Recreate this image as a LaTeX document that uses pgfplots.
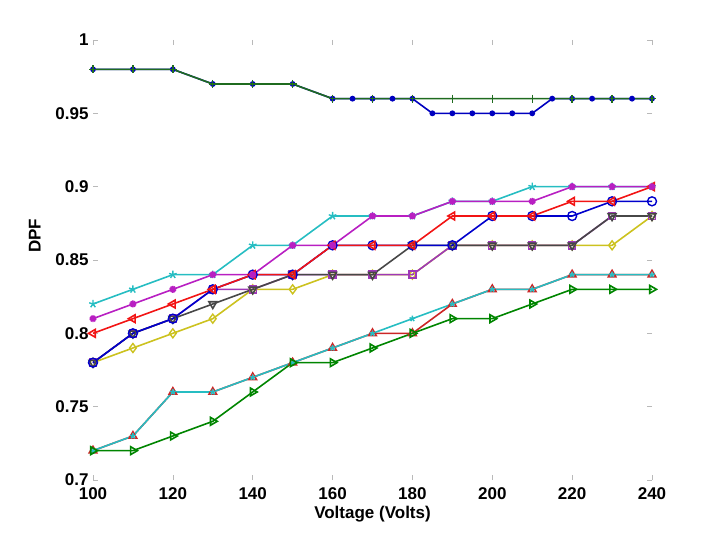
\documentclass[border=0pt]{standalone}
\usepackage{pgfplots}
\pgfplotsset{compat=1.18}
\usepackage{fontspec}
\setmainfont{Liberation Sans}
\usetikzlibrary{plotmarks}
\definecolor{ccyan}{rgb}{0.15,0.74,0.76}
\definecolor{cmag}{rgb}{0.72,0.12,0.76}
\definecolor{cred}{rgb}{0.95,0.08,0.08}
\definecolor{cblue}{rgb}{0.0,0.0,0.80}
\definecolor{cgray}{rgb}{0.28,0.28,0.28}
\definecolor{cpurp}{rgb}{0.62,0.22,0.72}
\definecolor{cyel}{rgb}{0.80,0.76,0.12}
\definecolor{cdred}{rgb}{0.80,0.15,0.15}
\definecolor{cgreen}{rgb}{0.0,0.52,0.0}
\definecolor{ctgreen}{rgb}{0.12,0.42,0.12}
\definecolor{cdot}{rgb}{0.0,0.0,0.75}
\begin{document}
\begin{tikzpicture}
\useasboundingbox (0,0) rectangle (720pt,540pt);
\begin{axis}[
  at={(93pt,60pt)}, anchor=south west,
  scale only axis, width=559pt, height=440pt,
  xmin=100, xmax=240, ymin=0.7, ymax=1,
  axis line style={draw=none},
  xtick={100,120,...,240},
  xticklabels={100,120,140,160,180,200,220,240},
  ytick={0.7,0.75,0.8,0.85,0.9,0.95,1},
  yticklabels={0.7,0.75,0.8,0.85,0.9,0.95,1},
  tick align=inside,
  major tick length=5pt,
  tick style={draw=gray!55, line width=0.6pt},
  ticklabel style={font=\fontsize{17}{20}\selectfont\bfseries},
  xticklabel style={anchor=center, yshift=-14pt},
  yticklabel style={anchor=east, xshift=-1pt},
  label style={font=\fontsize{17}{20}\selectfont\bfseries},
  xlabel={Voltage (Volts)},
  xlabel style={at={(axis description cs:0.5,0)}, anchor=center, yshift=-34pt},
  ylabel={DPF},
  ylabel style={at={(axis description cs:-0.104,0.555)}, anchor=center},
  clip=false,
  every axis plot/.append style={line width=1.6pt, mark size=4pt, mark options={solid, line width=1.4pt}},
]
% top series
\addplot[color=cdot, mark=*, mark size=2.2pt] coordinates {(100,0.98)(110,0.98)(120,0.98)(130,0.97)(140,0.97)(150,0.97)(160,0.96)(165,0.96)(170,0.96)(175,0.96)(180,0.96)(185,0.95)(190,0.95)(195,0.95)(200,0.95)(205,0.95)(210,0.95)(215,0.96)(220,0.96)(225,0.96)(230,0.96)(235,0.96)(240,0.96)};
\addplot[color=ctgreen, mark=+, mark size=4pt] coordinates {(100,0.98)(110,0.98)(120,0.98)(130,0.97)(140,0.97)(150,0.97)(160,0.96)(170,0.96)(180,0.96)(190,0.96)(200,0.96)(210,0.96)(220,0.96)(230,0.96)(240,0.96)};
% middle series
\addplot[color=ccyan, mark=star, mark size=4pt] coordinates {(100,0.82)(110,0.83)(120,0.84)(130,0.84)(140,0.86)(150,0.86)(160,0.88)(170,0.88)(180,0.88)(190,0.89)(200,0.89)(210,0.90)(220,0.90)(230,0.90)(240,0.90)};
\addplot[color=cyel, mark=diamond, mark size=4.5pt] coordinates {(100,0.78)(110,0.79)(120,0.80)(130,0.81)(140,0.83)(150,0.83)(160,0.84)(170,0.84)(180,0.84)(190,0.86)(200,0.86)(210,0.86)(220,0.86)(230,0.86)(240,0.88)};
\addplot[color=cpurp, mark=square, mark size=3.5pt] coordinates {(100,0.78)(110,0.80)(120,0.81)(130,0.83)(140,0.83)(150,0.84)(160,0.84)(170,0.84)(180,0.84)(190,0.86)(200,0.86)(210,0.86)(220,0.86)(230,0.88)(240,0.88)};
\addplot[color=cgray, mark=triangle, mark size=4.5pt, mark options={rotate=180}] coordinates {(100,0.78)(110,0.80)(120,0.81)(130,0.82)(140,0.83)(150,0.84)(160,0.84)(170,0.84)(180,0.86)(190,0.86)(200,0.86)(210,0.86)(220,0.86)(230,0.88)(240,0.88)};
\addplot[color=cblue, mark=o, mark size=4.5pt] coordinates {(100,0.78)(110,0.80)(120,0.81)(130,0.83)(140,0.84)(150,0.84)(160,0.86)(170,0.86)(180,0.86)(190,0.86)(200,0.88)(210,0.88)(220,0.88)(230,0.89)(240,0.89)};
\addplot[color=cred, mark=triangle, mark size=4.5pt, mark options={rotate=90}] coordinates {(100,0.80)(110,0.81)(120,0.82)(130,0.83)(140,0.84)(150,0.84)(160,0.86)(170,0.86)(180,0.86)(190,0.88)(200,0.88)(210,0.88)(220,0.89)(230,0.89)(240,0.90)};
\addplot[color=cmag, mark=10-pointed star, mark size=3.5pt] coordinates {(100,0.81)(110,0.82)(120,0.83)(130,0.84)(140,0.84)(150,0.86)(160,0.86)(170,0.88)(180,0.88)(190,0.89)(200,0.89)(210,0.89)(220,0.90)(230,0.90)(240,0.90)};
% lower series
\addplot[color=cdred, mark=triangle, mark size=4.5pt] coordinates {(100,0.72)(110,0.73)(120,0.76)(130,0.76)(140,0.77)(150,0.78)(160,0.79)(170,0.80)(180,0.80)(190,0.82)(200,0.83)(210,0.83)(220,0.84)(230,0.84)(240,0.84)};
\addplot[color=ccyan, mark=star, mark size=3pt] coordinates {(100,0.72)(110,0.73)(120,0.76)(130,0.76)(140,0.77)(150,0.78)(160,0.79)(170,0.80)(180,0.81)(190,0.82)(200,0.83)(210,0.83)(220,0.84)(230,0.84)(240,0.84)};
\addplot[color=cgreen, mark=triangle, mark size=4.5pt, mark options={rotate=-90}] coordinates {(100,0.72)(110,0.72)(120,0.73)(130,0.74)(140,0.76)(150,0.78)(160,0.78)(170,0.79)(180,0.80)(190,0.81)(200,0.81)(210,0.82)(220,0.83)(230,0.83)(240,0.83)};
\end{axis}
\end{tikzpicture}
\end{document}
